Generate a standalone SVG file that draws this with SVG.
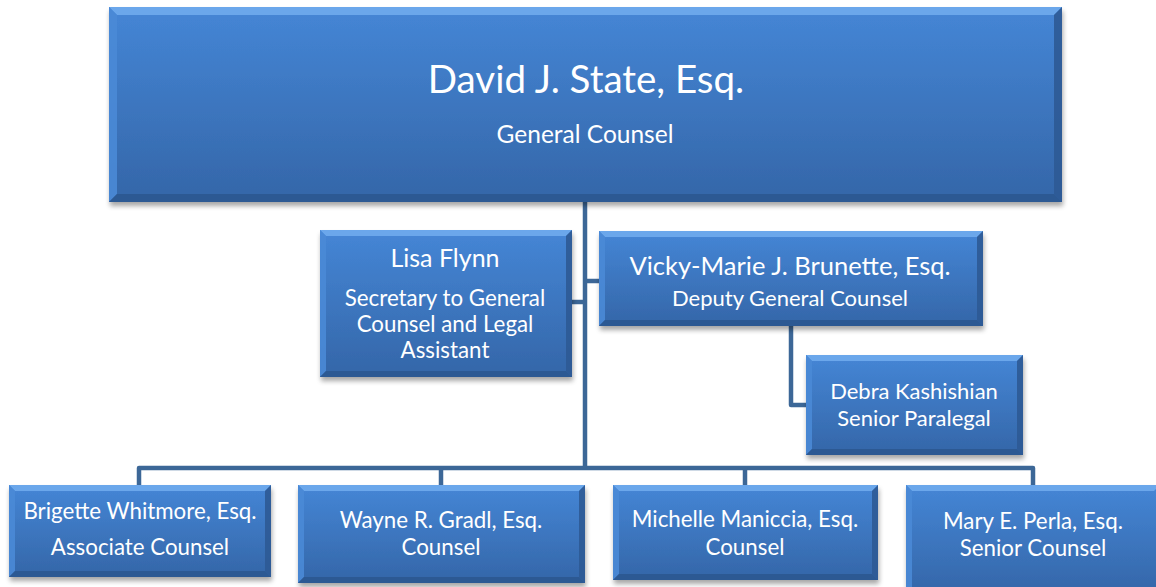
<svg xmlns="http://www.w3.org/2000/svg" width="1156" height="587" viewBox="0 0 1156 587">
<defs>
<linearGradient id="fill" x1="0" y1="0" x2="0" y2="1">
<stop offset="0" stop-color="#4586d6"/>
<stop offset="1" stop-color="#3466a8"/>
</linearGradient>
<filter id="sh" x="-10%" y="-10%" width="120%" height="130%">
<feGaussianBlur in="SourceAlpha" stdDeviation="2.5"/>
<feOffset dx="1" dy="4" result="b"/>
<feComponentTransfer><feFuncA type="linear" slope="0.35"/></feComponentTransfer>
<feMerge><feMergeNode/><feMergeNode in="SourceGraphic"/></feMerge>
</filter>
<style>
.box{fill:url(#fill);filter:url(#sh)}
.bt{fill:#72adef;opacity:0.85}
.bl{fill:#4a8ad6;opacity:0.9}
.br{fill:#2d5a95;opacity:0.9}
.bb{fill:#2b5890;opacity:0.9}
.t{font-family:Lato,"Open Sans",sans-serif;fill:#ffffff;text-anchor:middle}
.s{font-size:22.3px}
.conn{fill:none;stroke:#3c6797;stroke-width:4.5;stroke-linejoin:round}
</style>
</defs>
<rect width="1156" height="587" fill="#ffffff"/>
<g id="connectors">
<path class="conn" d="M585,202 V468"/>
<path class="conn" d="M139,485 V468 H1033 V485"/>
<path class="conn" d="M441,468 V485"/>
<path class="conn" d="M745,468 V485"/>
<path class="conn" d="M572,302 H585"/>
<path class="conn" d="M585,281 H599"/>
<path class="conn" d="M791,326 V405 H806"/>
</g>
<g id="n-state">
<rect class="box" x="109" y="7" width="953" height="195"/>
<polygon class="bt" points="109,7 1062,7 1054,15 117,15"/>
<polygon class="bl" points="109,7 117,15 117,194 109,202"/>
<polygon class="br" points="1062,7 1062,202 1054,194 1054,15"/>
<polygon class="bb" points="109,202 1062,202 1054,194 117,194"/>
<text class="t" x="586" y="93" font-size="38.5">David J. State, Esq.</text>
<text class="t" x="585" y="143" font-size="24.5">General Counsel</text>
</g>
<g id="n-flynn">
<rect class="box" x="320" y="230" width="252" height="147"/>
<polygon class="bt" points="320,230 572,230 566,236 326,236"/>
<polygon class="bl" points="320,230 326,236 326,371 320,377"/>
<polygon class="br" points="572,230 572,377 566,371 566,236"/>
<polygon class="bb" points="320,377 572,377 566,371 326,371"/>
<text class="t" x="445" y="267" font-size="25">Lisa Flynn</text>
<text class="t s" x="445" y="306">Secretary to General</text>
<text class="t s" x="445" y="332">Counsel and Legal</text>
<text class="t s" x="445" y="358">Assistant</text>
</g>
<g id="n-brunette">
<rect class="box" x="599" y="231" width="384" height="95"/>
<polygon class="bt" points="599,231 983,231 977,237 605,237"/>
<polygon class="bl" points="599,231 605,237 605,320 599,326"/>
<polygon class="br" points="983,231 983,326 977,320 977,237"/>
<polygon class="bb" points="599,326 983,326 977,320 605,320"/>
<text class="t" x="790" y="275" font-size="25.5">Vicky-Marie J. Brunette, Esq.</text>
<text class="t" x="790" y="306" font-size="22">Deputy General Counsel</text>
</g>
<g id="n-kashishian">
<rect class="box" x="806" y="355" width="217" height="100"/>
<polygon class="bt" points="806,355 1023,355 1017,361 812,361"/>
<polygon class="bl" points="806,355 812,361 812,449 806,455"/>
<polygon class="br" points="1023,355 1023,455 1017,449 1017,361"/>
<polygon class="bb" points="806,455 1023,455 1017,449 812,449"/>
<text class="t" x="914" y="399" font-size="22">Debra Kashishian</text>
<text class="t" x="914" y="426" font-size="22">Senior Paralegal</text>
</g>
<g id="n-whitmore">
<rect class="box" x="9" y="485" width="262" height="92"/>
<polygon class="bt" points="9,485 271,485 265,491 15,491"/>
<polygon class="bl" points="9,485 15,491 15,571 9,577"/>
<polygon class="br" points="271,485 271,577 265,571 265,491"/>
<polygon class="bb" points="9,577 271,577 265,571 15,571"/>
<text class="t s" x="140" y="519">Brigette Whitmore, Esq.</text>
<text class="t s" x="140" y="555">Associate Counsel</text>
</g>
<g id="n-gradl">
<rect class="box" x="298" y="485" width="287" height="98"/>
<polygon class="bt" points="298,485 585,485 579,491 304,491"/>
<polygon class="bl" points="298,485 304,491 304,577 298,583"/>
<polygon class="br" points="585,485 585,583 579,577 579,491"/>
<polygon class="bb" points="298,583 585,583 579,577 304,577"/>
<text class="t s" x="441" y="528">Wayne R. Gradl, Esq.</text>
<text class="t s" x="441" y="555">Counsel</text>
</g>
<g id="n-maniccia">
<rect class="box" x="613" y="485" width="265" height="95"/>
<polygon class="bt" points="613,485 878,485 872,491 619,491"/>
<polygon class="bl" points="613,485 619,491 619,574 613,580"/>
<polygon class="br" points="878,485 878,580 872,574 872,491"/>
<polygon class="bb" points="613,580 878,580 872,574 619,574"/>
<text class="t s" x="745" y="527">Michelle Maniccia, Esq.</text>
<text class="t s" x="745" y="555">Counsel</text>
</g>
<g id="n-perla">
<rect class="box" x="906" y="485" width="254" height="110"/>
<polygon class="bt" points="906,485 1160,485 1154,491 912,491"/>
<polygon class="bl" points="906,485 912,491 912,589 906,595"/>
<text class="t s" x="1033" y="529">Mary E. Perla, Esq.</text>
<text class="t s" x="1033" y="556">Senior Counsel</text>
</g>
</svg>
